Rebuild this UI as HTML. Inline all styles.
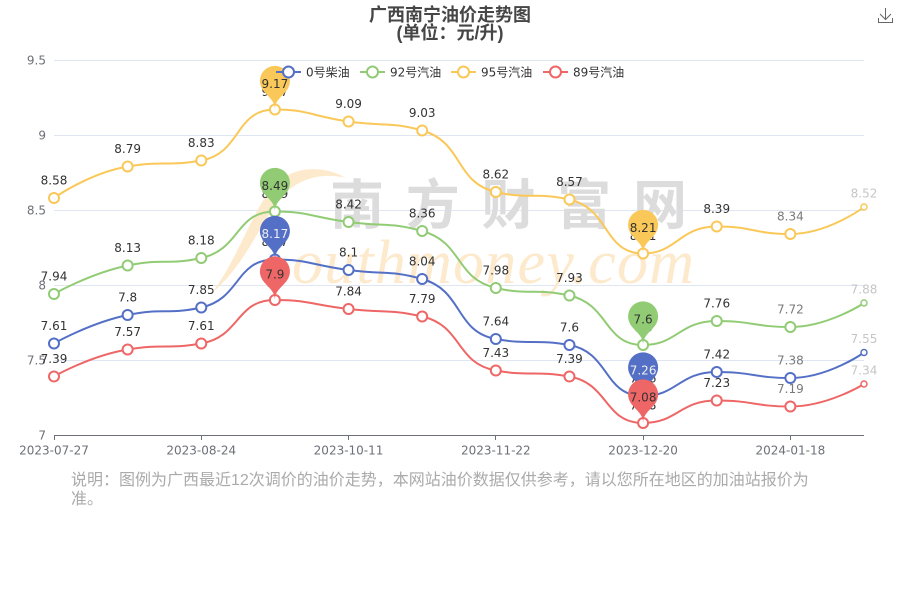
<!DOCTYPE html>
<html>
<head>
<meta charset="utf-8">
<style>
html,body{margin:0;padding:0;background:#fff;}
svg{display:block;}
.num{font-family:"DejaVu Sans","Liberation Sans",sans-serif;font-size:12px;}
.cjk{font-family:"DejaVu Sans","Noto Sans CJK SC",sans-serif;}
</style>
</head>
<body>
<svg width="900" height="600" viewBox="0 0 900 600" xmlns="http://www.w3.org/2000/svg">
<rect width="900" height="600" fill="#fff"/>

<!-- title -->
<text x="450" y="21" text-anchor="middle" font-family="'Liberation Sans','Noto Sans CJK SC',sans-serif" font-size="18" font-weight="bold" fill="#464646">广西南宁油价走势图</text>
<text x="450" y="39" text-anchor="middle" font-family="'Liberation Sans','Noto Sans CJK SC',sans-serif" font-size="18" font-weight="bold" fill="#464646">(单位：元/升)</text>

<!-- download icon -->
<g stroke="#666" stroke-width="1" fill="none">
<path d="M885.5,8 V19.5"/>
<path d="M880,14 L885.5,19.5 L891,14"/>
<path d="M878.5,18 V22.5 H892.5 V18"/>
</g>

<!-- grid -->
<g stroke="#e0e6f1" stroke-width="1">
<line x1="54" y1="60.5" x2="864" y2="60.5"/>
<line x1="54" y1="135.5" x2="864" y2="135.5"/>
<line x1="54" y1="210.5" x2="864" y2="210.5"/>
<line x1="54" y1="285.5" x2="864" y2="285.5"/>
<line x1="54" y1="360.5" x2="864" y2="360.5"/>
</g>

<!-- watermark -->
<path d="M346,178 C322,164 290,166 272,188 C252,212 238,258 212,293 C244,266 258,228 279,200 C296,179 320,172 346,178 Z" fill="#fde6c4" opacity="0.85"/>
<text x="292" y="283" font-family="'Liberation Serif',serif" font-style="italic" font-size="62" fill="#fde9cc" textLength="402" lengthAdjust="spacing">outhmoney.com</text>
<text x="330" y="224" font-family="'Noto Sans CJK SC','WenQuanYi Zen Hei',sans-serif" font-size="54" font-weight="bold" fill="#dcdcdc" textLength="357" lengthAdjust="spacing">南方财富网</text>

<!-- y axis labels -->
<g class="num" fill="#6e7079" text-anchor="end">
<text x="46" y="64.4">9.5</text>
<text x="46" y="139.4">9</text>
<text x="46" y="214.4">8.5</text>
<text x="46" y="289.4">8</text>
<text x="46" y="364.4">7.5</text>
<text x="46" y="439.4">7</text>
</g>

<!-- x axis -->
<line x1="54" y1="435.5" x2="864" y2="435.5" stroke="#6e7079" stroke-width="1"/>
<g stroke="#6e7079" stroke-width="1">
<line x1="54.5" y1="435" x2="54.5" y2="440"/>
<line x1="201.5" y1="435" x2="201.5" y2="440"/>
<line x1="348.5" y1="435" x2="348.5" y2="440"/>
<line x1="495.5" y1="435" x2="495.5" y2="440"/>
<line x1="643.5" y1="435" x2="643.5" y2="440"/>
<line x1="790.5" y1="435" x2="790.5" y2="440"/>
</g>
<g class="num" fill="#6e7079" text-anchor="middle">
<text x="54" y="454.4">2023-07-27</text>
<text x="201.27" y="454.4">2023-08-24</text>
<text x="348.55" y="454.4">2023-10-11</text>
<text x="495.82" y="454.4">2023-11-22</text>
<text x="643.09" y="454.4">2023-12-20</text>
<text x="790.36" y="454.4">2024-01-18</text>
</g>

<!-- series lines -->
<g fill="none" stroke-width="2" stroke-linejoin="round">
<path stroke="#5470c6" d="M54,343.5 C54,343.5 89.64,323 127.64,315 C163.27,307.5 167.61,315 201.27,307.5 C241.25,298.59 235.02,259.5 274.91,259.5 C308.66,259.5 311.68,265.12 348.55,270 C385.32,274.87 389.89,270 422.18,279 C463.53,290.52 454.40,331.29 495.82,339 C528.04,345 536.17,339 569.45,345 C609.80,352.27 603.60,396 643.09,396 C677.24,396 679.04,372 716.73,372 C752.68,372 754.52,378 790.36,378 C828.16,378 864,352.5 864,352.5"/>
<path stroke="#91cc75" d="M54,294 C54,294 89.64,273.5 127.64,265.5 C163.27,258 167.44,265.5 201.27,258 C241.08,249.18 235.19,211.5 274.91,211.5 C308.83,211.5 311.68,217.12 348.55,222 C385.32,226.87 389.53,222 422.18,231 C463.17,242.30 454.80,278.56 495.82,288 C528.43,295.5 535.96,288 569.45,295.5 C609.60,304.49 603.77,345 643.09,345 C677.41,345 679.04,321 716.73,321 C752.68,321 754.41,327 790.36,327 C828.05,327 864,303 864,303"/>
<path stroke="#fac858" d="M54,198 C54,198 89.33,173 127.64,166.5 C162.97,160.5 167.99,166.5 201.27,160.5 C241.62,153.23 234.73,109.5 274.91,109.5 C308.37,109.5 311.63,116.23 348.55,121.5 C385.26,126.74 390.07,121.5 422.18,130.5 C463.71,142.14 454.25,182.28 495.82,192 C527.89,199.5 536.48,192 569.45,199.5 C610.12,208.75 603.48,253.5 643.09,253.5 C677.12,253.5 678.84,226.5 716.73,226.5 C752.48,226.5 754.61,234 790.36,234 C828.25,234 864,207 864,207"/>
<path stroke="#ee6666" d="M54,376.5 C54,376.5 89.72,355.87 127.64,349.5 C163.36,343.5 167.14,349.5 201.27,343.5 C240.78,336.55 235.47,300 274.91,300 C309.11,300 311.69,304.87 348.55,309 C385.33,313.12 389.21,309 422.18,316.5 C462.85,325.75 455.11,363.08 495.82,370.5 C528.75,376.5 535.65,370.5 569.45,376.5 C609.29,383.57 604.01,423 643.09,423 C677.65,423 679.15,400.5 716.73,400.5 C752.79,400.5 754.30,406.5 790.36,406.5 C827.94,406.5 864,384 864,384"/>
</g>

<!-- symbols -->
<g fill="#fff" stroke-width="2">
<g stroke="#5470c6">
<circle cx="54" cy="343.5" r="5"/><circle cx="127.64" cy="315" r="5"/><circle cx="201.27" cy="307.5" r="5"/><circle cx="274.91" cy="259.5" r="5"/><circle cx="348.55" cy="270" r="5"/><circle cx="422.18" cy="279" r="5"/><circle cx="495.82" cy="339" r="5"/><circle cx="569.45" cy="345" r="5"/><circle cx="643.09" cy="396" r="5"/><circle cx="716.73" cy="372" r="5"/><circle cx="790.36" cy="378" r="5"/><circle cx="864" cy="352.5" r="3" stroke-width="1.5"/>
</g>
<g stroke="#91cc75">
<circle cx="54" cy="294" r="5"/><circle cx="127.64" cy="265.5" r="5"/><circle cx="201.27" cy="258" r="5"/><circle cx="274.91" cy="211.5" r="5"/><circle cx="348.55" cy="222" r="5"/><circle cx="422.18" cy="231" r="5"/><circle cx="495.82" cy="288" r="5"/><circle cx="569.45" cy="295.5" r="5"/><circle cx="643.09" cy="345" r="5"/><circle cx="716.73" cy="321" r="5"/><circle cx="790.36" cy="327" r="5"/><circle cx="864" cy="303" r="3" stroke-width="1.5"/>
</g>
<g stroke="#fac858">
<circle cx="54" cy="198" r="5"/><circle cx="127.64" cy="166.5" r="5"/><circle cx="201.27" cy="160.5" r="5"/><circle cx="274.91" cy="109.5" r="5"/><circle cx="348.55" cy="121.5" r="5"/><circle cx="422.18" cy="130.5" r="5"/><circle cx="495.82" cy="192" r="5"/><circle cx="569.45" cy="199.5" r="5"/><circle cx="643.09" cy="253.5" r="5"/><circle cx="716.73" cy="226.5" r="5"/><circle cx="790.36" cy="234" r="5"/><circle cx="864" cy="207" r="3" stroke-width="1.5"/>
</g>
<g stroke="#ee6666">
<circle cx="54" cy="376.5" r="5"/><circle cx="127.64" cy="349.5" r="5"/><circle cx="201.27" cy="343.5" r="5"/><circle cx="274.91" cy="300" r="5"/><circle cx="348.55" cy="309" r="5"/><circle cx="422.18" cy="316.5" r="5"/><circle cx="495.82" cy="370.5" r="5"/><circle cx="569.45" cy="376.5" r="5"/><circle cx="643.09" cy="423" r="5"/><circle cx="716.73" cy="400.5" r="5"/><circle cx="790.36" cy="406.5" r="5"/><circle cx="864" cy="384" r="3" stroke-width="1.5"/>
</g>
</g>

<!-- value labels -->
<g class="num" text-anchor="middle" fill="#333">
<!-- blue -->
<text x="54" y="329.8">7.61</text><text x="127.64" y="301.3">7.8</text><text x="201.27" y="293.8">7.85</text><text x="274.91" y="245.8">8.17</text><text x="348.55" y="256.3">8.1</text><text x="422.18" y="265.3">8.04</text><text x="495.82" y="325.3">7.64</text><text x="569.45" y="331.3">7.6</text><text x="643.09" y="382.3">7.26</text><text x="716.73" y="358.3">7.42</text><text x="790.36" y="364.3" fill="#7a7a7a">7.38</text><text x="864" y="343.2" fill="#c6c6c6">7.55</text>
<!-- green -->
<text x="54" y="280.3">7.94</text><text x="127.64" y="251.8">8.13</text><text x="201.27" y="244.3">8.18</text><text x="274.91" y="197.8">8.49</text><text x="348.55" y="208.3">8.42</text><text x="422.18" y="217.3">8.36</text><text x="495.82" y="274.3">7.98</text><text x="569.45" y="281.8">7.93</text><text x="643.09" y="331.3">7.6</text><text x="716.73" y="307.3">7.76</text><text x="790.36" y="313.3" fill="#7a7a7a">7.72</text><text x="864" y="293.7" fill="#c6c6c6">7.88</text>
<!-- yellow -->
<text x="54" y="184.3">8.58</text><text x="127.64" y="152.8">8.79</text><text x="201.27" y="146.8">8.83</text><text x="274.91" y="95.8">9.17</text><text x="348.55" y="107.8">9.09</text><text x="422.18" y="116.8">9.03</text><text x="495.82" y="178.3">8.62</text><text x="569.45" y="185.8">8.57</text><text x="643.09" y="239.8">8.21</text><text x="716.73" y="212.8">8.39</text><text x="790.36" y="220.3" fill="#7a7a7a">8.34</text><text x="864" y="197.7" fill="#c6c6c6">8.52</text>
<!-- red -->
<text x="54" y="362.8">7.39</text><text x="127.64" y="335.8">7.57</text><text x="201.27" y="329.8">7.61</text><text x="274.91" y="286.3">7.9</text><text x="348.55" y="295.3">7.84</text><text x="422.18" y="302.8">7.79</text><text x="495.82" y="356.8">7.43</text><text x="569.45" y="362.8">7.39</text><text x="643.09" y="409.3">7.08</text><text x="716.73" y="386.8">7.23</text><text x="790.36" y="392.8" fill="#7a7a7a">7.19</text><text x="864" y="374.7" fill="#c6c6c6">7.34</text>
</g>

<!-- mark point pins -->
<g class="num" text-anchor="middle">
<g transform="translate(274.91,259.5)"><path fill="#5470c6" d="M-13.553,-22.143 A15,15 0 1 1 13.553,-22.143 C9.696,-14.011 0,-10.5 0,0 C0,-10.5 -9.696,-14.011 -13.553,-22.143Z"/><text x="0" y="-21.6" fill="#eee">8.17</text></g>
<g transform="translate(643.09,396)"><path fill="#5470c6" d="M-13.553,-22.143 A15,15 0 1 1 13.553,-22.143 C9.696,-14.011 0,-10.5 0,0 C0,-10.5 -9.696,-14.011 -13.553,-22.143Z"/><text x="0" y="-21.6" fill="#eee">7.26</text></g>
<g transform="translate(274.91,211.5)"><path fill="#91cc75" d="M-13.553,-22.143 A15,15 0 1 1 13.553,-22.143 C9.696,-14.011 0,-10.5 0,0 C0,-10.5 -9.696,-14.011 -13.553,-22.143Z"/><text x="0" y="-21.6" fill="#333">8.49</text></g>
<g transform="translate(643.09,345)"><path fill="#91cc75" d="M-13.553,-22.143 A15,15 0 1 1 13.553,-22.143 C9.696,-14.011 0,-10.5 0,0 C0,-10.5 -9.696,-14.011 -13.553,-22.143Z"/><text x="0" y="-21.6" fill="#333">7.6</text></g>
<g transform="translate(274.91,109.5)"><path fill="#fac858" d="M-13.553,-22.143 A15,15 0 1 1 13.553,-22.143 C9.696,-14.011 0,-10.5 0,0 C0,-10.5 -9.696,-14.011 -13.553,-22.143Z"/><text x="0" y="-21.6" fill="#333">9.17</text></g>
<g transform="translate(643.09,253.5)"><path fill="#fac858" d="M-13.553,-22.143 A15,15 0 1 1 13.553,-22.143 C9.696,-14.011 0,-10.5 0,0 C0,-10.5 -9.696,-14.011 -13.553,-22.143Z"/><text x="0" y="-21.6" fill="#333">8.21</text></g>
<g transform="translate(274.91,300)"><path fill="#ee6666" d="M-13.553,-22.143 A15,15 0 1 1 13.553,-22.143 C9.696,-14.011 0,-10.5 0,0 C0,-10.5 -9.696,-14.011 -13.553,-22.143Z"/><text x="0" y="-21.6" fill="#333">7.9</text></g>
<g transform="translate(643.09,423)"><path fill="#ee6666" d="M-13.553,-22.143 A15,15 0 1 1 13.553,-22.143 C9.696,-14.011 0,-10.5 0,0 C0,-10.5 -9.696,-14.011 -13.553,-22.143Z"/><text x="0" y="-21.6" fill="#333">7.08</text></g>
</g>

<!-- legend -->
<g stroke-width="2" fill="#fff">
<line x1="276" y1="72" x2="301" y2="72" stroke="#5470c6"/><circle cx="288.5" cy="72" r="5.5" stroke="#5470c6"/>
<line x1="360" y1="72" x2="385" y2="72" stroke="#91cc75"/><circle cx="372.5" cy="72" r="5.5" stroke="#91cc75"/>
<line x1="451" y1="72" x2="476" y2="72" stroke="#fac858"/><circle cx="463.5" cy="72" r="5.5" stroke="#fac858"/>
<line x1="543" y1="72" x2="568" y2="72" stroke="#ee6666"/><circle cx="555.5" cy="72" r="5.5" stroke="#ee6666"/>
</g>
<g class="cjk" font-size="12" fill="#333">
<text x="306" y="76.4">0号柴油</text>
<text x="390" y="76.4">92号汽油</text>
<text x="481" y="76.4">95号汽油</text>
<text x="573" y="76.4">89号汽油</text>
</g>

<!-- note -->
<g font-family="'Liberation Sans','Noto Sans CJK SC',sans-serif" font-size="16" fill="#aaa">
<text x="71" y="485">说明：图例为广西最近12次调价的油价走势，本网站油价数据仅供参考，请以您所在地区的加油站报价为</text>
<text x="71" y="504">准。</text>
</g>
</svg>
</body>
</html>
